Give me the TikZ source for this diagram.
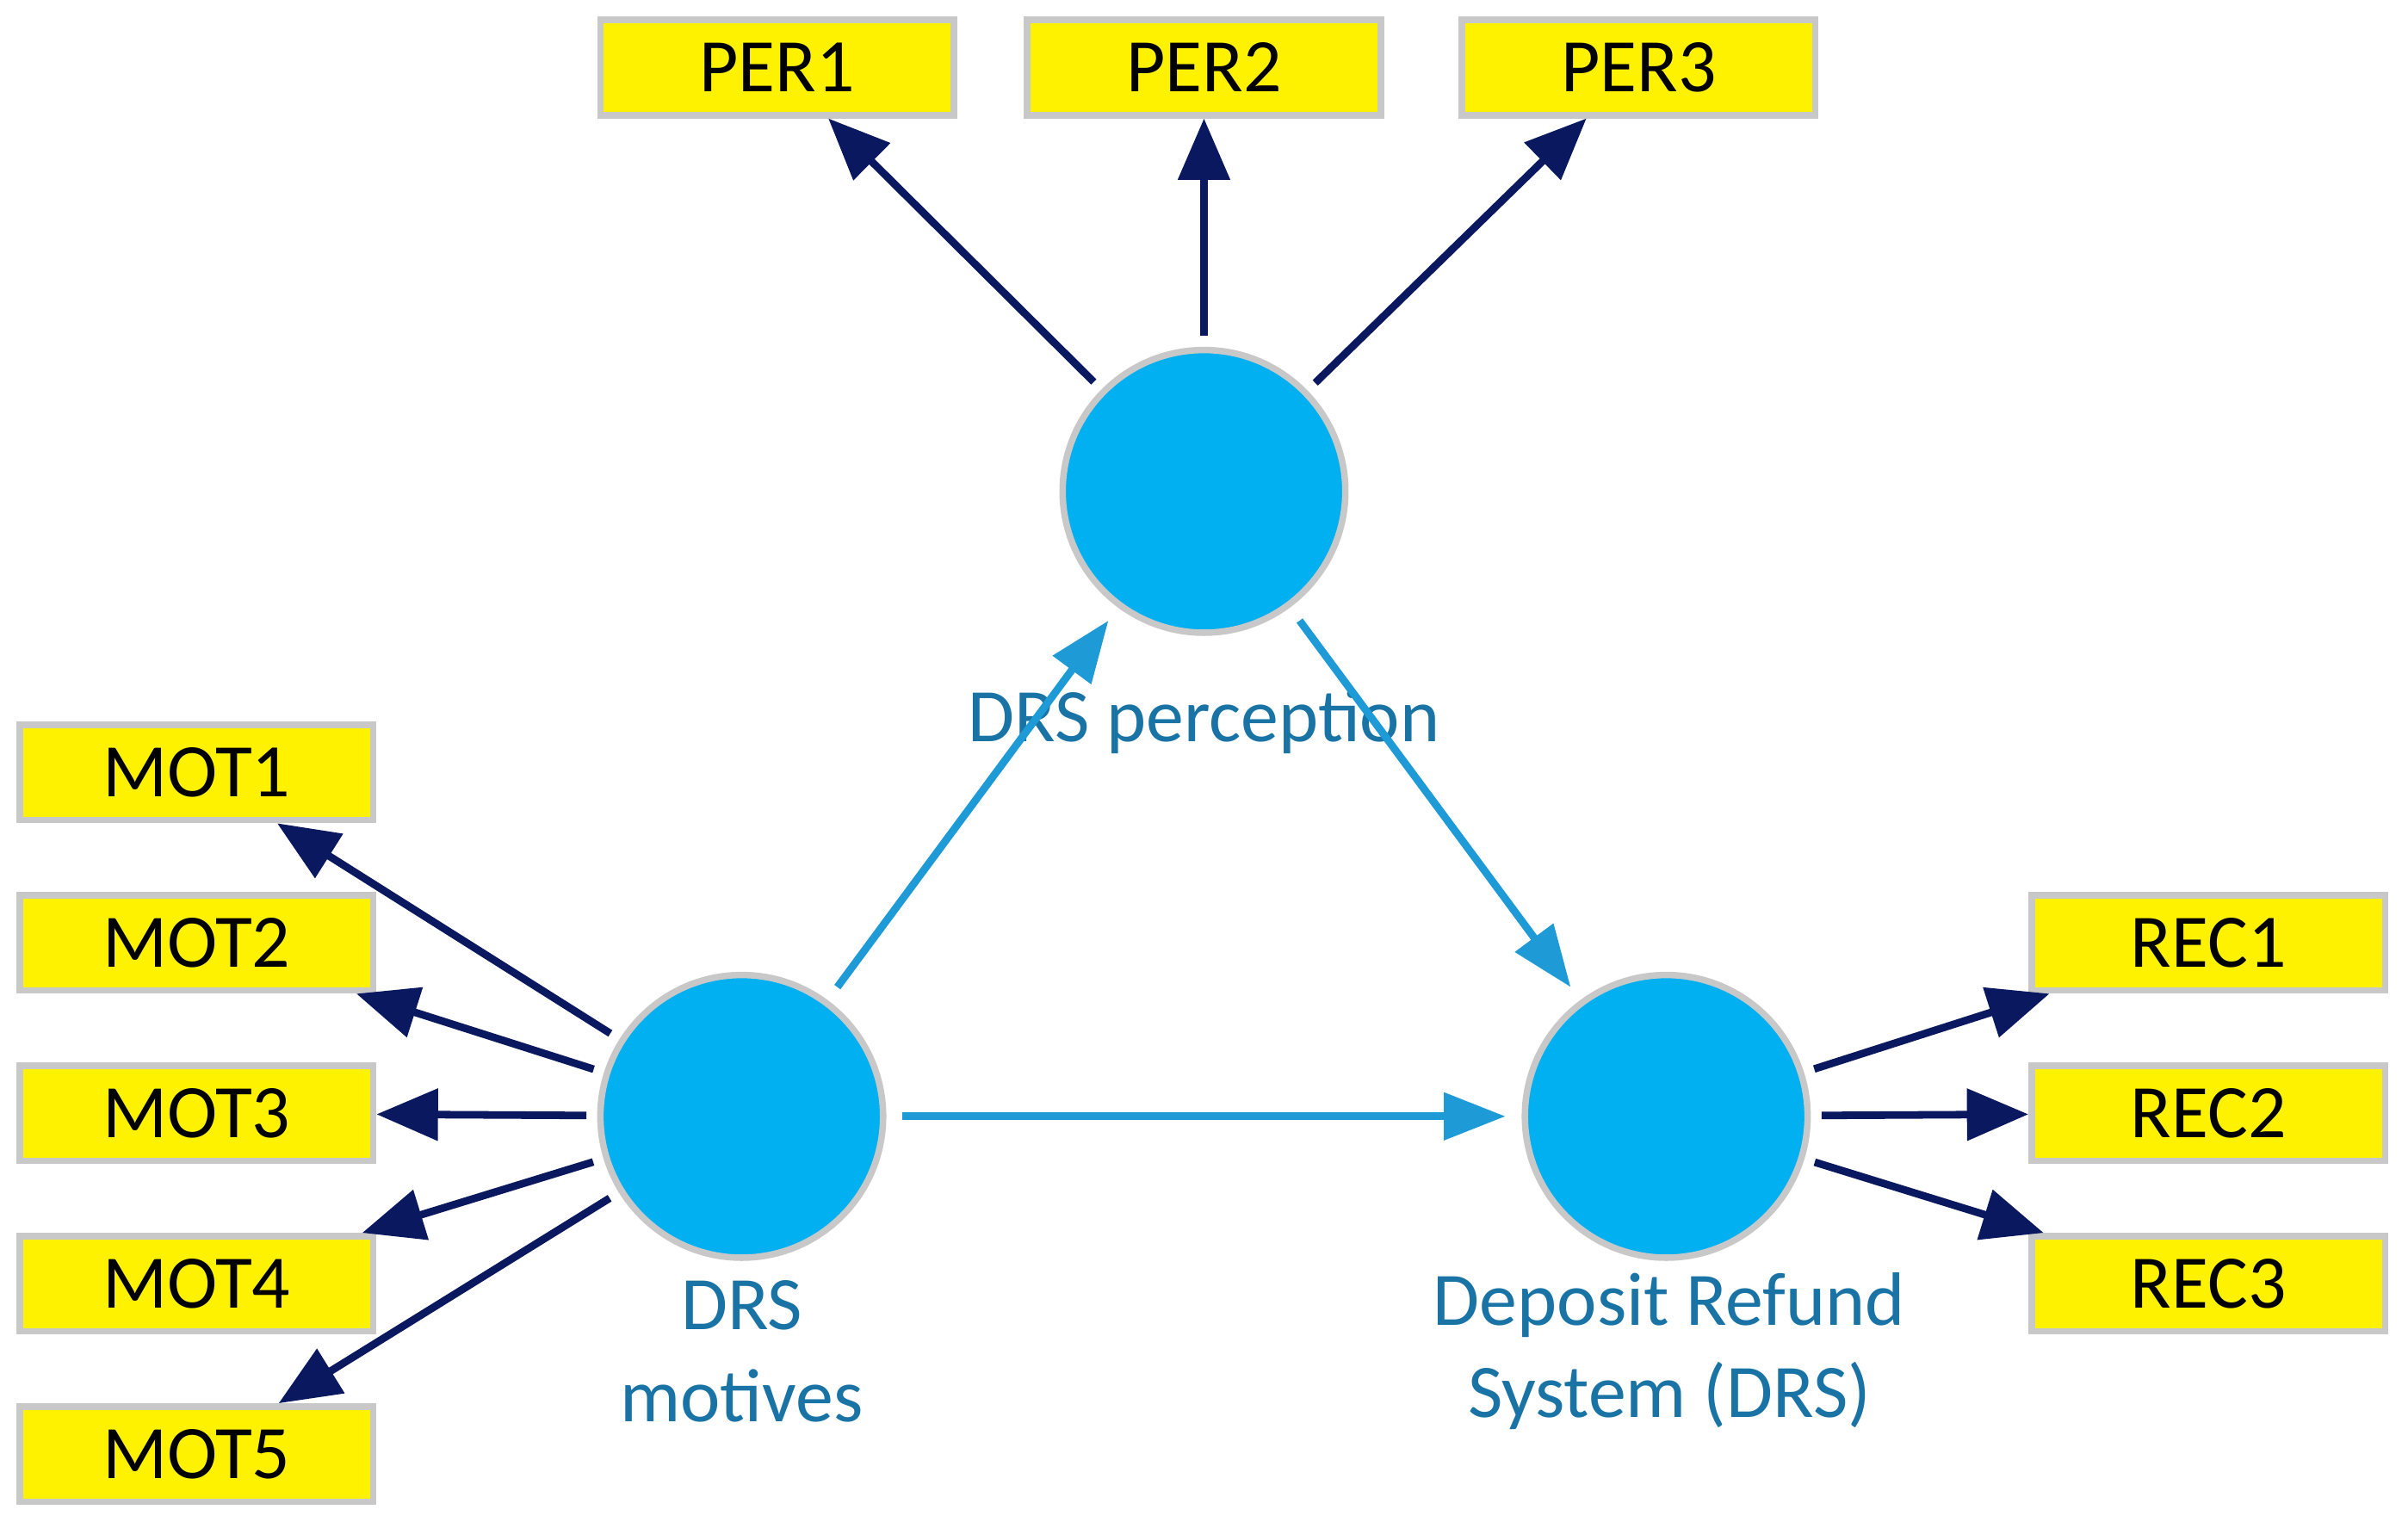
\documentclass[tikz,border=0pt]{standalone}
\usepackage{fontspec}
\setmainfont{Carlito}
\usetikzlibrary{arrows.meta}
\definecolor{navy}{RGB}{10,25,95}
\definecolor{lblue}{RGB}{30,155,215}
\definecolor{cfill}{RGB}{0,176,240}
\definecolor{lab}{RGB}{25,115,165}
\definecolor{bord}{RGB}{200,200,200}
\begin{document}
\begin{tikzpicture}[x=0.01cm,y=-0.01cm,
  box/.style={draw=bord,line width=1.2pt,fill=yellow,minimum width=2.3cm,minimum height=0.62cm,font=\fontsize{14}{16}\selectfont,inner sep=0pt},
  lv/.style={circle,draw=bord,line width=1.2pt,fill=cfill,minimum size=1.84cm,inner sep=0pt},
  lbl/.style={text=lab,font=\fontsize{14}{17}\selectfont,align=center},
  outarr/.style={draw=navy,line width=1.4pt,-{Triangle[length=0.4cm,width=0.33cm]},shorten <=2pt},
  inn/.style={draw=lblue,line width=1.4pt,-{Triangle[length=0.4cm,width=0.3cm]},shorten <=3pt,shorten >=3pt}]
\useasboundingbox (0,0) rectangle (1568,995);
\node[box] (per1) at (506,44) {PER1};
\node[box] (per2) at (784,44) {PER2};
\node[box] (per3) at (1067,44) {PER3};
\foreach \i/\y in {1/503,2/614,3/725,4/836,5/947}{\node[box] (mot\i) at (128,\y) {MOT\i};}
\foreach \i/\y in {1/614,2/725,3/836}{\node[box] (rec\i) at (1438,\y) {REC\i};}
\node[lv] (per) at (784,320) {};
\node[lv] (mot) at (483,727) {};
\node[lv] (drs) at (1085,727) {};
\node[lbl] (lper) at (784,470) {DRS perception};
\node[lbl] (lmot) at (483,880) {DRS\\motives};
\node[lbl] (ldrs) at (1087,880) {Deposit Refund\\System (DRS)};
\foreach \b in {per1,per2,per3}{\draw[outarr] (per) -- (\b);}
\foreach \b in {mot1,mot2,mot3,mot4,mot5}{\draw[outarr] (mot) -- (\b);}
\foreach \b in {rec1,rec2,rec3}{\draw[outarr] (drs) -- (\b);}
\draw[inn] (mot) -- (per);
\draw[inn] (per) -- (drs);
\draw[inn] (mot) -- (drs);
\end{tikzpicture}
\end{document}
